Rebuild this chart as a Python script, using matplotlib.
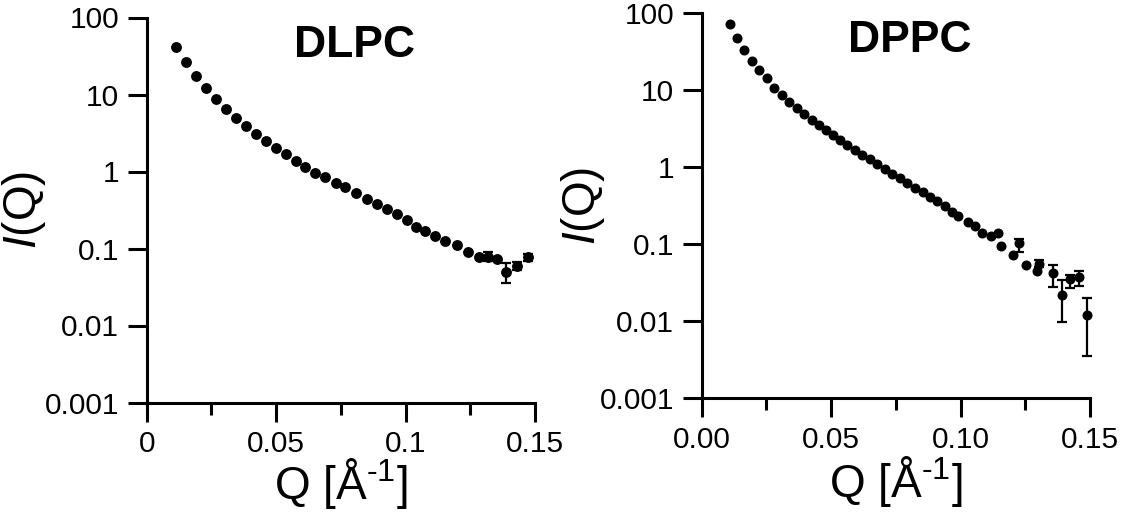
import numpy as np
import matplotlib
matplotlib.use("Agg")
import matplotlib.pyplot as plt
from matplotlib.ticker import FixedLocator, NullLocator

plt.rcParams['font.family'] = ['Liberation Sans', 'DejaVu Sans']
plt.rcParams['mathtext.fontset'] = 'custom'
plt.rcParams['mathtext.rm'] = 'Liberation Sans'
plt.rcParams['mathtext.it'] = 'Liberation Sans:italic'

# DLPC scattering curve
dlpc_q = [0.0113, 0.0152, 0.0190, 0.0229, 0.0268, 0.0306, 0.0345, 0.0384, 0.0421, 0.0460,
          0.0498, 0.0537, 0.0576, 0.0612, 0.0650, 0.0689, 0.0730, 0.0766, 0.0809, 0.0850,
          0.0891, 0.0927, 0.0968, 0.1007, 0.1040, 0.1075, 0.1114, 0.1152, 0.1198, 0.1242,
          0.1285, 0.1320, 0.1352, 0.1388, 0.1429, 0.1474]
dlpc_i = [41.8, 26.7, 17.5, 12.0, 8.66, 6.42, 4.91, 3.90, 3.07, 2.49,
          2.04, 1.67, 1.37, 1.15, 0.964, 0.841, 0.716, 0.623, 0.521, 0.444,
          0.378, 0.329, 0.277, 0.234, 0.192, 0.170, 0.145, 0.126, 0.110, 0.0893,
          0.0769, 0.0769, 0.0724, 0.0500, 0.0593, 0.0769]
dlpc_err_idx = [31, 33, 34, 35]
dlpc_err_lo = [0.068, 0.0356, 0.052, 0.069]
dlpc_err_hi = [0.0908, 0.0643, 0.066, 0.085]

# DPPC scattering curve
dppc_q = [0.0109, 0.0138, 0.0163, 0.0193, 0.0223, 0.0251, 0.0279, 0.0309, 0.0337, 0.0367,
          0.0396, 0.0425, 0.0454, 0.0480, 0.0508, 0.0534, 0.0563, 0.0592, 0.0620, 0.0650,
          0.0678, 0.0708, 0.0736, 0.0766, 0.0794, 0.0824, 0.0854, 0.0882, 0.0910, 0.0940,
          0.0966, 0.0991, 0.1030, 0.1056, 0.1082, 0.1116, 0.1146, 0.1156, 0.1204, 0.1226,
          0.1253, 0.1294, 0.1303, 0.1356, 0.1391, 0.1423, 0.1458, 0.1490]
dppc_i = [71.9, 48.2, 33.4, 24.0, 18.4, 14.3, 10.8, 8.69, 7.11, 5.84,
          4.88, 4.11, 3.54, 3.05, 2.63, 2.26, 1.95, 1.68, 1.45, 1.27,
          1.09, 0.942, 0.811, 0.719, 0.619, 0.543, 0.473, 0.415, 0.368, 0.314,
          0.265, 0.233, 0.197, 0.173, 0.139, 0.128, 0.139, 0.095, 0.0726, 0.103,
          0.0538, 0.0454, 0.0555, 0.0420, 0.0220, 0.0351, 0.0373, 0.0121]
dppc_err_idx = [39, 42, 43, 44, 45, 46, 47]
dppc_err_lo = [0.0802, 0.050, 0.0277, 0.0097, 0.0268, 0.0287, 0.00354]
dppc_err_hi = [0.116, 0.062, 0.0538, 0.0344, 0.040, 0.045, 0.0202]

y_ticks = [100, 10, 1, 0.1, 0.01, 0.001]
y_labels = ['100', '10', '1', '0.1', '0.01', '0.001']
x_ticks = [0, 0.05, 0.1, 0.15]
x_labels_left = ['0', '0.05', '0.1', '0.15']
x_labels_right = ['0.00', '0.05', '0.10', '0.15']

W, H = 1124, 518
fig = plt.figure(figsize=(W / 100, H / 100), dpi=100)
ax1 = fig.add_axes([146.7 / W, (H - 402.5) / H, 388.3 / W, 385 / H])
ax2 = fig.add_axes([701.7 / W, (H - 398.3) / H, 388.3 / W, 385 / H])


def style(ax, xlabels, title, q, i, idx, lo, hi, ms, title_x, title_y, ylab_x, xlab_y):
    ax.plot(q, i, 'o', color='black', ms=ms, mec='black', zorder=3, clip_on=False)
    y = np.asarray(i)[idx]
    x = np.asarray(q)[idx]
    yerr = [y - np.asarray(lo), np.asarray(hi) - y]
    ax.errorbar(x, y, yerr=yerr, fmt='none', ecolor='black', elinewidth=1.6,
                capsize=3.4, capthick=1.6, zorder=2, clip_on=False)
    ax.set_yscale('log')
    ax.set_ylim(0.001, 100)
    ax.set_xlim(0, 0.15)
    ax.yaxis.set_major_locator(FixedLocator(y_ticks))
    ax.set_yticklabels(y_labels)
    ax.yaxis.set_minor_locator(NullLocator())
    ax.set_xticks(x_ticks)
    ax.set_xticklabels(xlabels)
    ax.set_xticks([0.025, 0.075, 0.125], minor=True)
    for s in ['top', 'right']:
        ax.spines[s].set_visible(False)
    for s in ['left', 'bottom']:
        ax.spines[s].set_linewidth(2.2)
    ax.tick_params(which='major', length=14, width=2.2, labelsize=21.5, pad=6, color='black')
    ax.tick_params(which='minor', length=8.5, width=2.2, color='black')
    ax.set_xlabel('Q [Å$^{\\text{-}1}$]', fontsize=33)
    ax.set_ylabel('$\\mathit{I}$(Q)', fontsize=33)
    ax.xaxis.set_label_coords(0.5, xlab_y)
    ax.yaxis.set_label_coords(ylab_x, 0.5)
    ax.text(title_x, title_y, title, transform=ax.transAxes, ha='center', va='baseline',
            fontsize=32, fontweight='bold')


style(ax1, x_labels_left, 'DLPC', dlpc_q, dlpc_i, dlpc_err_idx, dlpc_err_lo, dlpc_err_hi,
      6.8, 0.534, 0.898, -0.255, -0.14)
style(ax2, x_labels_right, 'DPPC', dppc_q, dppc_i, dppc_err_idx, dppc_err_lo, dppc_err_hi,
      6.2, 0.536, 0.900, -0.245, -0.145)

fig.savefig('out.png', dpi=100, facecolor='white')
